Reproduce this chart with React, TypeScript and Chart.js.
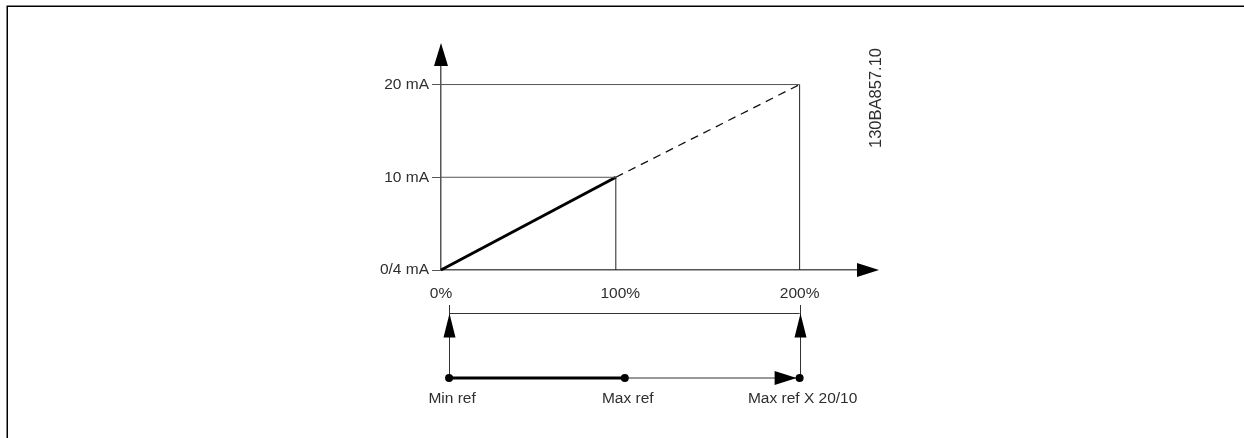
import React, { useEffect, useRef } from "react";
import { Chart, registerables } from "chart.js";

Chart.register(...registerables);

// ---- data ----
const xTickValues = [0, 100, 200];
const xTickLabels = ["0%", "100%", "200%"];
const yTickValues = [0, 10, 20];
const yTickLabels = ["0/4 mA", "10 mA", "20 mA"];

// active (solid) part of the characteristic: 0% -> 100% maps 0/4 mA -> 10 mA
const solidX = [0, 97.5];
const solidY = [0, 10];
// extrapolated (dashed) part: 100% -> 200% maps 10 mA -> 20 mA
const dashedX = [97.5, 200];
const dashedY = [10, 20];

// guide levels (mA) and where they end on the x axis (%)
const guideLevels = [10, 20];
const guideEnds = [97.5, 200];

// lower reference bar
const refLabels = ["Min ref", "Max ref", "Max ref X 20/10"];
const refPositions = [4.5, 102.5, 200];

const drawingCode = "130BA857.10";
const X_MAX = 232;
const Y_MAX = 22;

const FONT_FAMILY = '"Liberation Sans", Arial, Helvetica, sans-serif';
const TEXT_COLOR = "#2e2e2e";
const AXIS_COLOR = "#555555";

function pts(xs: number[], ys: number[]) {
  return xs.map((x, i) => ({ x, y: ys[i] }));
}

function arrowHead(
  ctx: CanvasRenderingContext2D,
  tipX: number,
  tipY: number,
  dir: "up" | "right",
  len: number,
  half: number
) {
  ctx.beginPath();
  if (dir === "up") {
    ctx.moveTo(tipX, tipY);
    ctx.lineTo(tipX + half, tipY + len);
    ctx.lineTo(tipX - half, tipY + len);
  } else {
    ctx.moveTo(tipX, tipY);
    ctx.lineTo(tipX - len, tipY - half);
    ctx.lineTo(tipX - len, tipY + half);
  }
  ctx.closePath();
  ctx.fill();
}

const decorPlugin = {
  id: "decor",
  beforeDraw(chart: any) {
    const ctx: CanvasRenderingContext2D = chart.ctx;
    ctx.save();
    ctx.fillStyle = "#ffffff";
    ctx.fillRect(0, 0, chart.width, chart.height);
    // frame (top and left edges)
    ctx.strokeStyle = "#000000";
    ctx.lineWidth = 1.5;
    ctx.beginPath();
    ctx.moveTo(chart.width, 6.25);
    ctx.lineTo(7.25, 6.25);
    ctx.lineTo(7.25, chart.height);
    ctx.stroke();
    ctx.restore();
  },
  afterDraw(chart: any) {
    const ctx: CanvasRenderingContext2D = chart.ctx;
    const area = chart.chartArea;
    const xs = chart.scales.x;
    ctx.save();
    ctx.fillStyle = "#000000";

    // axis arrow heads
    arrowHead(ctx, area.left, area.top - 23, "up", 23, 7);
    arrowHead(ctx, area.right + 22, area.bottom, "right", 22, 7);

    // lower reference bar
    const b = area.bottom;
    const bracketTop = b + 35;
    const bracketY = b + 43.5;
    const arrowLen = 24;
    const lineY = b + 108;
    const labelY = b + 129;
    const px = refPositions.map((v) => xs.getPixelForValue(v));
    const first = px[0];
    const mid = px[1];
    const last = px[px.length - 1];

    ctx.strokeStyle = "#333333";
    ctx.lineWidth = 1;
    // bracket
    ctx.beginPath();
    ctx.moveTo(first, bracketY);
    ctx.lineTo(last, bracketY);
    ctx.stroke();
    // verticals
    [first, last].forEach((x) => {
      const xx = Math.round(x) + 0.5;
      ctx.beginPath();
      ctx.moveTo(xx, bracketTop);
      ctx.lineTo(xx, lineY);
      ctx.stroke();
      arrowHead(ctx, xx, bracketY, "up", arrowLen, 6);
    });
    // thin extension
    ctx.beginPath();
    ctx.moveTo(mid, lineY);
    ctx.lineTo(last, lineY);
    ctx.stroke();
    arrowHead(ctx, last - 3, lineY, "right", 22, 7);
    // thick active range
    ctx.strokeStyle = "#000000";
    ctx.lineWidth = 3;
    ctx.beginPath();
    ctx.moveTo(first, lineY);
    ctx.lineTo(mid, lineY);
    ctx.stroke();
    // dots
    px.forEach((x) => {
      ctx.beginPath();
      ctx.arc(x, lineY, 4, 0, Math.PI * 2);
      ctx.fill();
    });
    // labels
    ctx.fillStyle = TEXT_COLOR;
    ctx.font = `15.5px ${FONT_FAMILY}`;
    ctx.textAlign = "center";
    ctx.textBaseline = "middle";
    refLabels.forEach((t, i) => {
      ctx.fillText(t, px[i] + 3, labelY);
    });

    // drawing code, rotated
    ctx.save();
    ctx.translate(area.right + 19, area.top + 32);
    ctx.rotate(-Math.PI / 2);
    ctx.font = `16.5px ${FONT_FAMILY}`;
    ctx.textAlign = "center";
    ctx.textBaseline = "middle";
    ctx.fillText(drawingCode, 0, 0);
    ctx.restore();

    ctx.restore();
  },
};

export default function App() {
  const canvasRef = useRef<HTMLCanvasElement | null>(null);

  useEffect(() => {
    const canvas = canvasRef.current;
    if (!canvas) return;

    const guideDatasets: any[] = [];
    guideLevels.forEach((lvl, i) => {
      guideDatasets.push({
        label: `guide-h-${i}`,
        data: pts([0, guideEnds[i]], [lvl, lvl]),
        borderColor: AXIS_COLOR,
        borderWidth: 1,
        pointRadius: 0,
        clip: false,
      });
      guideDatasets.push({
        label: `guide-v-${i}`,
        data: pts([guideEnds[i], guideEnds[i]], [0, lvl]),
        borderColor: "#222222",
        borderWidth: 1,
        pointRadius: 0,
        clip: false,
      });
    });

    const chart = new Chart(canvas, {
      type: "line",
      data: {
        datasets: [
          ...guideDatasets,
          {
            label: "extrapolated",
            data: pts(dashedX, dashedY),
            borderColor: "#111111",
            borderWidth: 1.3,
            borderDash: [8, 6],
            pointRadius: 0,
            clip: false,
          },
          {
            label: "active",
            data: pts(solidX, solidY),
            borderColor: "#000000",
            borderWidth: 3,
            pointRadius: 0,
            clip: false,
          },
        ],
      },
      options: {
        responsive: false,
        animation: false,
        layout: { padding: { top: 66, right: 387, bottom: 0, left: 0 } },
        plugins: {
          legend: { display: false },
          tooltip: { enabled: false },
        },
        scales: {
          x: {
            type: "linear",
            position: "bottom",
            min: 0,
            max: X_MAX,
            afterBuildTicks: (s: any) => {
              s.ticks = xTickValues.map((v) => ({ value: v }));
            },
            afterFit: (s: any) => {
              s.height = 168;
            },
            grid: { display: false, drawTicks: false },
            border: { display: true, color: AXIS_COLOR, width: 1.5 },
            ticks: {
              padding: 14,
              color: TEXT_COLOR,
              font: { family: FONT_FAMILY, size: 15.5 },
              maxRotation: 0,
              autoSkip: false,
              callback: (v: any) => {
                const i = xTickValues.indexOf(Number(v));
                return i >= 0 ? xTickLabels[i] : "";
              },
            },
          },
          y: {
            type: "linear",
            position: "left",
            min: 0,
            max: Y_MAX,
            afterBuildTicks: (s: any) => {
              s.ticks = yTickValues.map((v) => ({ value: v }));
            },
            afterFit: (s: any) => {
              s.width = 441;
            },
            grid: {
              display: true,
              drawOnChartArea: false,
              drawTicks: true,
              tickLength: 9,
              color: AXIS_COLOR,
              lineWidth: 1,
            },
            border: { display: true, color: AXIS_COLOR, width: 1.5 },
            ticks: {
              padding: 3,
              color: TEXT_COLOR,
              font: { family: FONT_FAMILY, size: 15.5 },
              autoSkip: false,
              callback: (v: any) => {
                const i = yTickValues.indexOf(Number(v));
                return i >= 0 ? yTickLabels[i] : "";
              },
            },
          },
        },
      },
      plugins: [decorPlugin],
    });

    return () => chart.destroy();
  }, []);

  return (
    <div
      style={{
        position: "absolute",
        left: 0,
        top: 0,
        width: 1244,
        height: 438,
        background: "#ffffff",
      }}
    >
      <canvas ref={canvasRef} width={1244} height={438} style={{ display: "block" }} />
    </div>
  );
}
